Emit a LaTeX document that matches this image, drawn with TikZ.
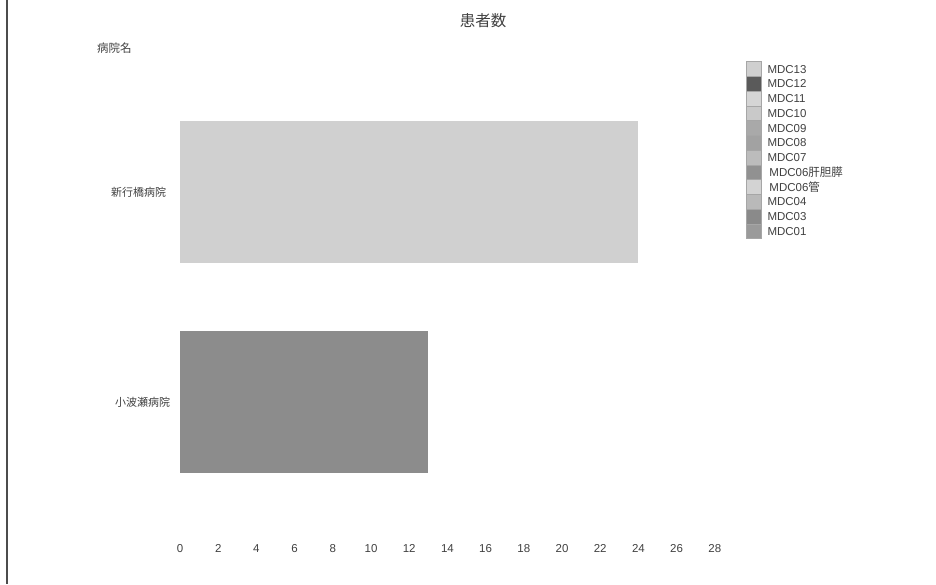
\documentclass[tikz,border=0pt]{standalone}
\usepackage{fontspec}
\setmainfont{Liberation Sans}
\newfontfamily\jp{Noto Sans CJK JP}
\usetikzlibrary{positioning}
\definecolor{barA}{HTML}{D0D0D0}
\definecolor{barB}{HTML}{8C8C8C}
\definecolor{c13}{HTML}{CFCFCF}
\definecolor{c12}{HTML}{5A5A5A}
\definecolor{c11}{HTML}{D5D5D5}
\definecolor{c10}{HTML}{C9C9C9}
\definecolor{c09}{HTML}{A9A9A9}
\definecolor{c08}{HTML}{A2A2A2}
\definecolor{c07}{HTML}{BCBCBC}
\definecolor{c06a}{HTML}{919191}
\definecolor{c06b}{HTML}{D3D3D3}
\definecolor{c04}{HTML}{B9B9B9}
\definecolor{c03}{HTML}{8A8A8A}
\definecolor{c01}{HTML}{9A9A9A}
\begin{document}
\begin{tikzpicture}[x=1pt,y=-1pt]
\tikzset{every node/.style={inner sep=0pt,outer sep=0pt,text=black!75}}
\tikzset{bar/.style={fill=#1,anchor=north west,minimum height=142pt},
         hosp/.style={font=\jp\fontsize{11}{11}\selectfont},
         tick/.style={font=\fontsize{11.5}{12}\selectfont,text height=8.5pt,text depth=0pt},
         swatch/.style={fill=#1,draw=black!35,line width=0.3pt,anchor=north west,
                        minimum width=15pt,minimum height=14.75pt}}
%\tikzset{every node/.style={draw=red}}
\useasboundingbox (0,0) rectangle (936,584);
\draw[line width=1.6pt,black!70] (7,0) -- (7,584);

\node[font=\jp\fontsize{15.5}{16}\selectfont] (title) at (483,21) {患者数};
\node[font=\jp\fontsize{11.5}{12}\selectfont,anchor=west] (yname) at (97,48) {病院名};

\node[bar=barA,minimum width=458pt] (bar1) at (180,121) {};
\node[bar=barB,minimum width=248pt] (bar2) at (180,331) {};
\node[hosp,left=14pt of bar1] (hosp1) {新行橋病院};
\node[hosp,left=10pt of bar2] (hosp2) {小波瀬病院};

\foreach \v in {0,2,...,28}
    \node[tick] (t\v) at ({180+19.1*\v},548) {\v};

\foreach \c/\t [count=\i] in {c13/MDC13,c12/MDC12,c11/MDC11,c10/MDC10,
        c09/MDC09,c08/MDC08,c07/MDC07,c06a/{\,MDC06{\jp 肝胆膵}},
        c06b/{\,MDC06{\jp 管}},c04/MDC04,c03/MDC03,c01/MDC01}
{
    \node[swatch=\c] (sw\i) at (746,{61.5+14.75*(\i-1)}) {};
    \node[tick,anchor=west,right=6.5pt of sw\i] (lg\i) {\t};
}
\end{tikzpicture}
\end{document}
